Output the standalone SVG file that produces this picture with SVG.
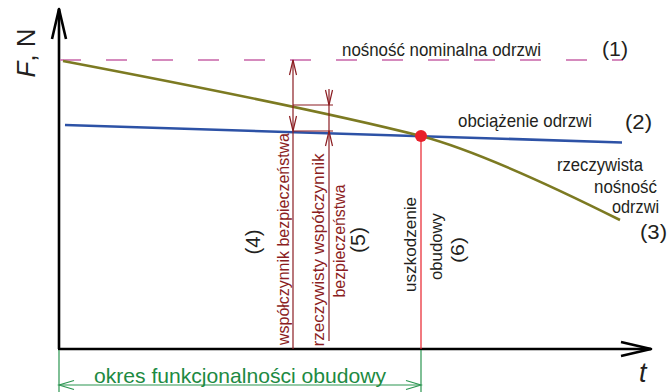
<svg xmlns="http://www.w3.org/2000/svg" width="668" height="392" viewBox="0 0 668 392">
  <style>
    .lbl { font-family: "Liberation Sans", Arial, sans-serif; fill: #231f20; }
    .red { font-family: "Liberation Sans", Arial, sans-serif; fill: #8b1d22; }
    .grn { font-family: "Liberation Sans", Arial, sans-serif; fill: #1d8a42; }
    .axis { stroke: #000; stroke-width: 2.6; fill: none; stroke-linejoin: round; }
    .dim { stroke: #8b1d22; stroke-width: 1.2; fill: none; }
    .gdim { stroke: #2a9550; stroke-width: 1.2; fill: none; }
  </style>
  <defs>
    <marker id="axHead" viewBox="-33 -9 36 18" refX="0" refY="0" markerWidth="36" markerHeight="18" orient="auto" markerUnits="userSpaceOnUse">
      <path d="M-30,-7 L0,0 L-30,7" fill="none" stroke="#000" stroke-width="2.6" stroke-linejoin="round"/>
    </marker>
    <marker id="gHead" viewBox="-17 -6 19 12" refX="0" refY="0" markerWidth="19" markerHeight="12" orient="auto-start-reverse" markerUnits="userSpaceOnUse">
      <path d="M-15,-4.5 L0,0 L-15,4.5" fill="none" stroke="#2a9550" stroke-width="1.2"/>
    </marker>
  </defs>

  <rect width="668" height="392" fill="#fff"/>

  <!-- axes -->
  <g id="axes">
    <line class="axis" x1="59" y1="349" x2="59" y2="9" marker-end="url(#axHead)"/>
    <line class="axis" x1="58" y1="349" x2="651" y2="349" marker-end="url(#axHead)"/>
    <text class="lbl" transform="translate(35,53) rotate(-90)" text-anchor="middle" font-size="26" textLength="49" lengthAdjust="spacingAndGlyphs"><tspan font-style="italic">F</tspan>, N</text>
    <text class="lbl" x="639" y="382" font-size="27" font-style="italic">t</text>
  </g>

  <!-- (1) nominal capacity -->
  <g id="nominal">
    <line x1="60" y1="60" x2="623" y2="60" stroke="#c864a8" stroke-width="1.6" stroke-dasharray="21 25"/>
    <text class="lbl" x="342" y="56" font-size="19" textLength="199" lengthAdjust="spacingAndGlyphs">nośność nominalna odrzwi</text>
    <text class="lbl" x="602" y="56" font-size="20" textLength="26" lengthAdjust="spacingAndGlyphs">(1)</text>
  </g>

  <!-- (2) load -->
  <g id="load">
    <line x1="65" y1="125" x2="622" y2="142.5" stroke="#2d52a6" stroke-width="2.6"/>
    <text class="lbl" x="458" y="127" font-size="19" textLength="134" lengthAdjust="spacingAndGlyphs">obciążenie odrzwi</text>
    <text class="lbl" x="625" y="129" font-size="20" textLength="27" lengthAdjust="spacingAndGlyphs">(2)</text>
  </g>

  <!-- (3) actual capacity -->
  <g id="actual">
    <path d="M63,61 C200,87 330,113 421,136 C470,149 540,180 620,220" fill="none" stroke="#7c7a22" stroke-width="2.6"/>
    <text class="lbl" x="557" y="171" font-size="18" textLength="86" lengthAdjust="spacingAndGlyphs">rzeczywista</text>
    <text class="lbl" x="594" y="193" font-size="18" textLength="63" lengthAdjust="spacingAndGlyphs">nośność</text>
    <text class="lbl" x="612" y="213" font-size="18" textLength="47" lengthAdjust="spacingAndGlyphs">odrzwi</text>
    <text class="lbl" x="640" y="239" font-size="20" textLength="27" lengthAdjust="spacingAndGlyphs">(3)</text>
  </g>

  <!-- connectors: safety factor dimensions and service period -->
  <g id="connectors">
    <!-- (4) safety factor -->
    <line class="dim" x1="293" y1="60" x2="293" y2="349"/>
    <path class="dim" d="M289.5,75 L293,60 L296.5,75"/>
    <path class="dim" d="M289.5,116 L293,131 L296.5,116"/>
    <line class="dim" x1="293" y1="105" x2="333" y2="105"/>
    <line class="dim" x1="293" y1="131" x2="333" y2="131"/>
    <!-- (5) actual safety factor -->
    <line class="dim" x1="329" y1="89" x2="329" y2="341"/>
    <path class="dim" d="M325.5,90 L329,105 L332.5,90"/>
    <path class="dim" d="M325.5,146 L329,131 L332.5,146"/>
    <!-- (6) failure -->
    <line x1="421" y1="136" x2="421" y2="349" stroke="#e8202a" stroke-width="1.2"/>
    <!-- service period -->
    <line class="gdim" x1="59" y1="350" x2="59" y2="392"/>
    <line class="gdim" x1="421" y1="350" x2="421" y2="392"/>
    <line class="gdim" x1="59" y1="385" x2="421" y2="385" marker-start="url(#gHead)" marker-end="url(#gHead)"/>
  </g>

  <g id="failure-point">
    <circle cx="421" cy="136" r="6" fill="#e8202a"/>
  </g>

  <g id="factor-labels">
    <text class="red" transform="translate(289,239) rotate(-90)" text-anchor="middle" font-size="17" textLength="212" lengthAdjust="spacingAndGlyphs">współczynnik bezpieczeństwa</text>
    <text class="lbl" transform="translate(260,242) rotate(-90)" text-anchor="middle" font-size="20" textLength="25" lengthAdjust="spacingAndGlyphs">(4)</text>
    <text class="red" transform="translate(324,250) rotate(-90)" text-anchor="middle" font-size="17" textLength="193" lengthAdjust="spacingAndGlyphs">rzeczywisty współczynnik</text>
    <text class="red" transform="translate(345,241) rotate(-90)" text-anchor="middle" font-size="17" textLength="113" lengthAdjust="spacingAndGlyphs">bezpieczeństwa</text>
    <text class="lbl" transform="translate(365,240) rotate(-90)" text-anchor="middle" font-size="20" textLength="26" lengthAdjust="spacingAndGlyphs">(5)</text>
  </g>

  <g id="failure-label">
    <text class="lbl" transform="translate(416,244.5) rotate(-90)" text-anchor="middle" font-size="17" textLength="95" lengthAdjust="spacingAndGlyphs">uszkodzenie</text>
    <text class="lbl" transform="translate(442,246.5) rotate(-90)" text-anchor="middle" font-size="17" textLength="67" lengthAdjust="spacingAndGlyphs">obudowy</text>
    <text class="lbl" transform="translate(464,250) rotate(-90)" text-anchor="middle" font-size="19" textLength="26" lengthAdjust="spacingAndGlyphs">(6)</text>
  </g>

  <g id="period-label">
    <text class="grn" x="94" y="383" font-size="21" textLength="292" lengthAdjust="spacingAndGlyphs">okres funkcjonalności obudowy</text>
  </g>
</svg>
